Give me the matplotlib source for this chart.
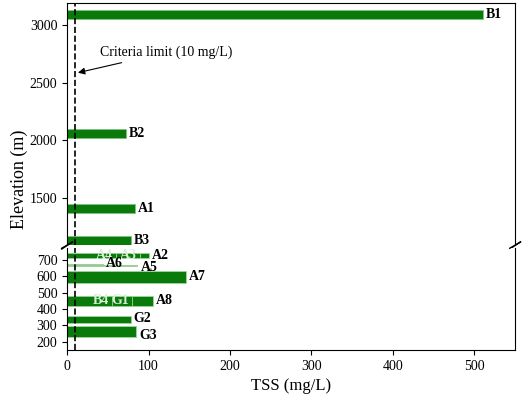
import matplotlib.pyplot as plt

plt.rcParams['font.family'] = ['Liberation Serif', 'DejaVu Serif']

# upper panel sites
up_names = ['B1', 'B2', 'A1', 'B3']
up_elev = [3090, 2060, 1410, 1130]
up_tss = [510, 72, 83, 78]

# lower panel sites
lo_names = ['A2', 'A3', 'A4', 'A5', 'A6', 'A7', 'A8', 'G1', 'B4', 'G2', 'G3']
lo_elev = [725, 725, 725, 664, 672, 595, 450, 450, 450, 335, 262]
lo_tss = [100, 90, 60, 86, 44, 146, 105, 80, 55, 78, 85]
lo_inside = [False, True, True, False, False, False, False, True, True, False, False]
lo_height = [32, 32, 32, 8, 8, 70, 60, 60, 60, 45, 70]

green = '#0a7a0a'
fig = plt.figure(figsize=(5.24, 4.07), dpi=100)
ax1 = fig.add_axes([0.128, 0.397, 0.855, 0.596])
ax2 = fig.add_axes([0.128, 0.14, 0.855, 0.25])

ax1.barh(up_elev, up_tss, height=75, color=green, edgecolor='#7fc47f', linewidth=0.6)
for n, e, v in zip(up_names, up_elev, up_tss):
    ax1.text(v + 4, e, n, va='center', fontsize=10, fontweight='bold')
ax1.set_ylim(1090, 3190)
ax1.set_yticks([1500, 2000, 2500, 3000])

ax2.barh(lo_elev, lo_tss, height=lo_height, color=green, edgecolor='#9fd49f', linewidth=0.6)
for n, e, v, ins in zip(lo_names, lo_elev, lo_tss, lo_inside):
    if ins:
        ax2.text(v - 4, e, n, va='center', ha='right', fontsize=10, fontweight='bold', color='#d8f0d8')
    else:
        dy = {'A6': 8, 'A5': -12, 'G3': -25, 'G2': 10}.get(n, 0)
        ax2.text(v + 4, e + dy, n, va='center', fontsize=10, fontweight='bold')
ax2.set_ylim(150, 770)
ax2.set_yticks([200, 300, 400, 500, 600, 700])

for ax in (ax1, ax2):
    ax.set_xlim(0, 550)
    ax.axvline(10, color='black', linestyle='--', linewidth=1.2)
    ax.tick_params(labelsize=10, direction='out')
ax1.spines['bottom'].set_visible(False)
ax2.spines['top'].set_visible(False)
ax1.tick_params(axis='x', which='both', bottom=False, labelbottom=False, top=False)
ax2.set_xticks([0, 100, 200, 300, 400, 500])
ax2.set_xlabel('TSS (mg/L)', fontsize=12)
fig.text(0.02, 0.56, 'Elevation (m)', rotation=90, va='center', fontsize=13)

ax1.annotate('Criteria limit (10 mg/L)', xy=(10, 2580), xytext=(40, 2760),
             fontsize=10, va='center',
             arrowprops=dict(arrowstyle='-|>', color='black', lw=0.8))

# break marks
kw = dict(color='black', clip_on=False, lw=1)
ax1.plot([-0.012, 0.012], [-0.015, 0.015], transform=ax1.transAxes, **kw)
ax2.plot([-0.012, 0.012], [1.0, 1.06], transform=ax2.transAxes, **kw)
ax1.plot([0.988, 1.012], [-0.015, 0.015], transform=ax1.transAxes, **kw)
ax2.plot([0.988, 1.012], [1.0, 1.06], transform=ax2.transAxes, **kw)

fig.savefig('out.png')
